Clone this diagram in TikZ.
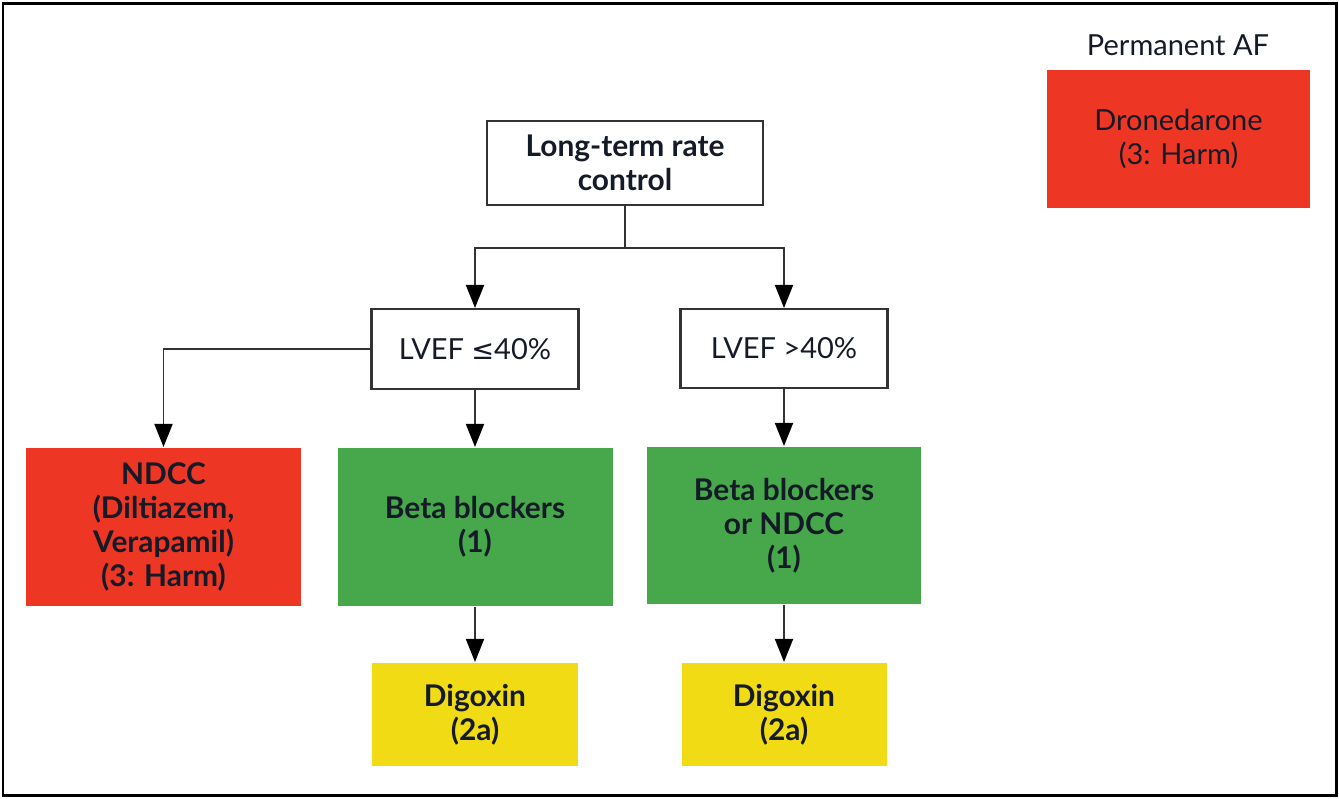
\documentclass[tikz,border=0pt]{standalone}
\usepackage{fontspec}
\setmainfont{Lato}
\newfontfamily\symfont{DejaVu Sans}
\usetikzlibrary{arrows.meta, positioning, calc}
\definecolor{harmred}{HTML}{EE3624}
\definecolor{recgreen}{HTML}{46A84A}
\definecolor{digyellow}{HTML}{F0DB14}
\definecolor{inkblue}{HTML}{151A28}
\tikzset{%
    boxsty/.style={
        draw=black!80,
        line width=1.2pt,
        align=center,
        inner sep=0pt,
        text=inkblue,
        font=\fontsize{16.5}{19.3}\selectfont,
    },
    colsty/.style={
        boxsty,
        draw=none,
        font=\fontsize{17}{19.3}\selectfont\bfseries,
    },
    arrsty/.style={
        draw=black!80,
        line width=1.1pt,
        -{Triangle[length=0.46cm,width=0.36cm,color=black]},
    },
}

\begin{document}
\begin{tikzpicture}[x=0.02cm,y=-0.02cm]

% frame
\useasboundingbox (0,0) rectangle (1339,798);
\draw[line width=0.06cm] (3,3) rectangle (1336,795);

% decision nodes
\node (top) [boxsty,font=\fontsize{17}{19.3}\selectfont\bfseries,minimum width=276*0.02cm,minimum height=84*0.02cm] at (625,163) {Long-term rate\\control};
\node (low) [boxsty,minimum width=207*0.02cm,minimum height=80*0.02cm] at (475,349) {LVEF {\symfont\fontsize{15.5}{18}\selectfont ≤}40\%};
\node (high) [boxsty,minimum width=207*0.02cm,minimum height=79*0.02cm] at (784,348.5) {LVEF >40\%};

% treatment nodes
\node (ndcc) [colsty,fill=harmred,minimum width=275*0.02cm,minimum height=158*0.02cm] at (163.5,527) {NDCC\\(Diltiazem,\\Verapamil)\\(3: Harm)};
\node (bb1) [colsty,fill=recgreen,minimum width=275*0.02cm,minimum height=158*0.02cm] at (475,527) {Beta blockers\\(1)};
\node (bb2) [colsty,fill=recgreen,minimum width=274*0.02cm,minimum height=157*0.02cm] at (784,525.5) {Beta blockers\\or NDCC\\(1)};
\node (dig1) [colsty,fill=digyellow,minimum width=206*0.02cm,minimum height=103*0.02cm] at (475,714.5) {Digoxin\\(2a)};
\node (dig2) [colsty,fill=digyellow,minimum width=205*0.02cm,minimum height=103*0.02cm] at (784,714.5) {Digoxin\\(2a)};

% permanent AF
\node (perm) [text=inkblue,font=\fontsize{16.5}{19.3}\selectfont] at (1178,45) {Permanent AF};
\node (drone) [boxsty,draw=none,fill=harmred,minimum width=263*0.02cm,minimum height=138*0.02cm] at (1178.5,139) {Dronedarone\\(3: Harm)};

% connectors
\coordinate (split) at ($(top.south)+(0,42)$);
\draw[arrsty] (top.south) -- (split) -| (low.north);
\draw[arrsty] (split) -| (high.north);
\draw[arrsty] (low.west) -| (ndcc.north);
\draw[arrsty] (low.south) -- (bb1.north);
\draw[arrsty] (high.south) -- (bb2.north);
\draw[arrsty] (bb1.south) -- (dig1.north);
\draw[arrsty] (bb2.south) -- (dig2.north);

\end{tikzpicture}
\end{document}
